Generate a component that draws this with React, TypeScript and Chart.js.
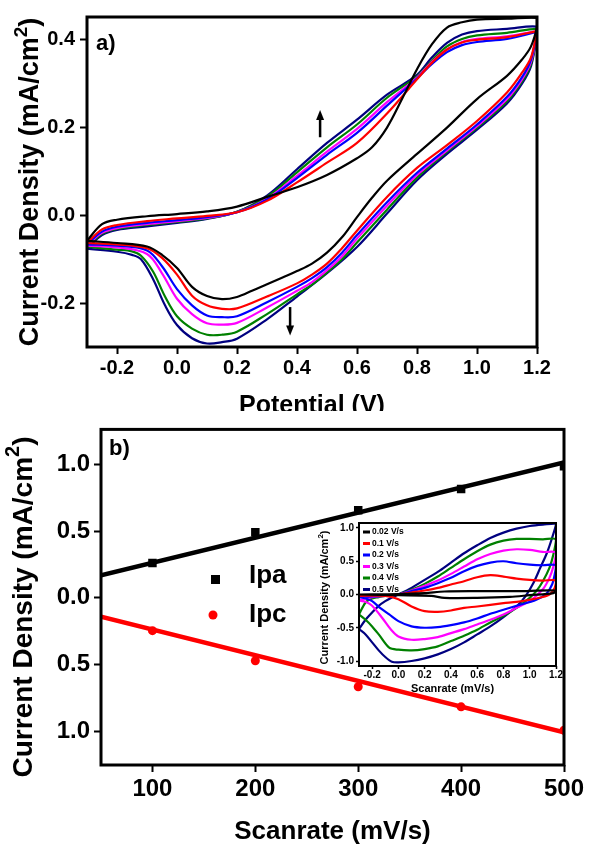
import React, { useEffect, useRef } from "react";
import { Chart, registerables } from "chart.js";
Chart.register(...registerables);

const FONT = "'Liberation Sans', Arial, Helvetica, sans-serif";
type P = [number, number];

// ---------------- panel a : CV curves ----------------
const cvColors = ["#000000", "#ff0000", "#0000ff", "#ff00ff", "#008000", "#000080"];
const cvXTicks = [-0.2, 0, 0.2, 0.4, 0.6, 0.8, 1.0, 1.2];
const cvYTicks = [-0.2, 0, 0.2, 0.4];

const cvBlack: P[] = [
  [-0.3, -0.058], [-0.25, -0.02], [-0.2, -0.01], [-0.1, -0.002], [0, 0.003], [0.1, 0.009], [0.2, 0.02], [0.3, 0.042],
  [0.4, 0.064], [0.5, 0.092], [0.6, 0.13], [0.65, 0.155], [0.7, 0.2], [0.75, 0.265], [0.8, 0.333], [0.85, 0.39],
  [0.9, 0.428], [0.95, 0.44], [1.0, 0.446], [1.1, 0.448], [1.2, 0.45],
  [1.2, 0.43], [1.18, 0.385], [1.15, 0.355], [1.1, 0.318], [1.0, 0.265], [0.9, 0.2], [0.8, 0.14], [0.7, 0.079],
  [0.65, 0.04], [0.6, -0.004], [0.55, -0.05], [0.5, -0.085], [0.45, -0.11], [0.4, -0.127], [0.35, -0.142],
  [0.3, -0.157], [0.25, -0.172], [0.2, -0.186], [0.15, -0.191], [0.1, -0.184], [0.05, -0.163], [0, -0.12],
  [-0.05, -0.09], [-0.1, -0.071], [-0.2, -0.063], [-0.3, -0.058],
];
const cvRed: P[] = [
  [-0.3, -0.063], [-0.25, -0.032], [-0.2, -0.022], [-0.1, -0.013], [0, -0.007], [0.1, -0.001], [0.2, 0.007], [0.3, 0.033],
  [0.4, 0.075], [0.5, 0.12], [0.6, 0.165], [0.7, 0.232], [0.8, 0.31], [0.85, 0.348], [0.9, 0.378], [0.95, 0.394],
  [1.0, 0.4], [1.1, 0.406], [1.2, 0.42],
  [1.2, 0.42], [1.18, 0.36], [1.15, 0.325], [1.1, 0.28], [1.0, 0.215], [0.9, 0.16], [0.8, 0.108], [0.7, 0.042],
  [0.6, -0.035], [0.55, -0.075], [0.5, -0.11], [0.45, -0.135], [0.4, -0.155], [0.3, -0.185], [0.2, -0.212],
  [0.15, -0.213], [0.1, -0.205], [0.05, -0.183], [0, -0.135], [-0.05, -0.097], [-0.1, -0.075], [-0.2, -0.066], [-0.3, -0.063],
];
const cvBlue: P[] = [
  [-0.3, -0.066], [-0.25, -0.037], [-0.2, -0.026], [-0.1, -0.017], [0, -0.011], [0.1, -0.004], [0.2, 0.007], [0.3, 0.036],
  [0.4, 0.085], [0.5, 0.138], [0.6, 0.188], [0.7, 0.25], [0.8, 0.312], [0.85, 0.345], [0.9, 0.372], [0.95, 0.388],
  [1.0, 0.395], [1.1, 0.402], [1.2, 0.418],
  [1.2, 0.418], [1.18, 0.355], [1.15, 0.315], [1.1, 0.27], [1.0, 0.207], [0.9, 0.152], [0.8, 0.097], [0.7, 0.03],
  [0.6, -0.045], [0.55, -0.085], [0.5, -0.118], [0.45, -0.143], [0.4, -0.163], [0.3, -0.198], [0.2, -0.23],
  [0.15, -0.232], [0.1, -0.228], [0.05, -0.205], [0, -0.168], [-0.05, -0.116], [-0.1, -0.08], [-0.2, -0.069], [-0.3, -0.066],
];
const cvMagenta: P[] = [
  [-0.3, -0.069], [-0.25, -0.04], [-0.2, -0.029], [-0.1, -0.02], [0, -0.013], [0.1, -0.006], [0.2, 0.007], [0.3, 0.038],
  [0.4, 0.09], [0.5, 0.145], [0.6, 0.197], [0.7, 0.258], [0.8, 0.314], [0.85, 0.35], [0.9, 0.378], [0.95, 0.395],
  [1.0, 0.402], [1.1, 0.408], [1.2, 0.42],
  [1.2, 0.418], [1.18, 0.35], [1.15, 0.31], [1.1, 0.265], [1.0, 0.203], [0.9, 0.148], [0.8, 0.092], [0.7, 0.022],
  [0.6, -0.053], [0.55, -0.093], [0.5, -0.125], [0.45, -0.152], [0.4, -0.172], [0.3, -0.21], [0.2, -0.245],
  [0.15, -0.249], [0.1, -0.246], [0.05, -0.225], [0, -0.19], [-0.05, -0.132], [-0.1, -0.088], [-0.2, -0.073], [-0.3, -0.069],
];
const cvGreen: P[] = [
  [-0.3, -0.072], [-0.25, -0.042], [-0.2, -0.031], [-0.1, -0.022], [0, -0.015], [0.1, -0.007], [0.2, 0.008], [0.3, 0.042],
  [0.4, 0.098], [0.5, 0.155], [0.6, 0.207], [0.7, 0.268], [0.8, 0.317], [0.85, 0.353], [0.9, 0.385], [0.95, 0.402],
  [1.0, 0.41], [1.1, 0.416], [1.2, 0.425],
  [1.2, 0.416], [1.18, 0.345], [1.15, 0.305], [1.1, 0.26], [1.0, 0.2], [0.9, 0.145], [0.8, 0.086], [0.7, 0.013],
  [0.6, -0.062], [0.55, -0.1], [0.5, -0.13], [0.45, -0.158], [0.4, -0.18], [0.3, -0.225], [0.2, -0.265],
  [0.15, -0.272], [0.1, -0.272], [0.05, -0.258], [0, -0.23], [-0.04, -0.185], [-0.08, -0.128], [-0.12, -0.092],
  [-0.15, -0.082], [-0.2, -0.078], [-0.3, -0.072],
];
const cvNavy: P[] = [
  [-0.3, -0.076], [-0.25, -0.045], [-0.2, -0.033], [-0.1, -0.025], [0, -0.017], [0.1, -0.008], [0.2, 0.008], [0.3, 0.045],
  [0.4, 0.105], [0.5, 0.165], [0.6, 0.218], [0.7, 0.275], [0.8, 0.32], [0.85, 0.36], [0.9, 0.393], [0.95, 0.412],
  [1.0, 0.42], [1.1, 0.425], [1.2, 0.43],
  [1.2, 0.415], [1.18, 0.34], [1.15, 0.3], [1.1, 0.255], [1.0, 0.195], [0.9, 0.14], [0.8, 0.08], [0.7, 0.004],
  [0.6, -0.072], [0.5, -0.132], [0.4, -0.185], [0.3, -0.237], [0.2, -0.281], [0.15, -0.289], [0.1, -0.292],
  [0.05, -0.28], [0, -0.25], [-0.04, -0.205], [-0.08, -0.145], [-0.12, -0.1], [-0.15, -0.09], [-0.2, -0.083], [-0.3, -0.076],
];
const cvCurves = [cvBlack, cvRed, cvBlue, cvMagenta, cvGreen, cvNavy];
const cvArrows = [
  { x: 0.477, from: 0.178, to: 0.24 },
  { x: 0.377, from: -0.209, to: -0.274 },
];

// ---------------- panel b : peak currents ----------------
const scanRates = [100, 200, 300, 400, 500];
const ipaValues = [0.26, 0.49, 0.655, 0.815, 0.985];
const ipcValues = [-0.245, -0.47, -0.665, -0.815, -0.99];
const fitRates = [50, 500];
const ipaFit = [0.168, 1.012];
const ipcFit = [-0.141, -1.005];
const rateTicks = [100, 200, 300, 400, 500];
const densityTicks = [-1, -0.5, 0, 0.5, 1];

// ---------------- inset : CV at scan rates ----------------
const insetLabels = ["0.02 V/s", "0.1 V/s", "0.2 V/s", "0.3 V/s", "0.4 V/s", "0.5 V/s"];
const insetXTicks = [-0.2, 0, 0.2, 0.4, 0.6, 0.8, 1.0, 1.2];
const insetYTicks = [-1, -0.5, 0, 0.5, 1];
const in002: P[] = [
  [-0.3, 0.0], [0.0, 0.005], [0.2, 0.02], [0.35, 0.045], [0.6, 0.05], [0.9, 0.05], [1.2, 0.06],
  [1.18, 0.02], [1.0, -0.01], [0.85, -0.035], [0.6, -0.05], [0.35, -0.05], [0.25, -0.02], [0.0, -0.01], [-0.3, 0.0],
];
const in01: P[] = [
  [-0.3, -0.02], [-0.1, -0.01], [0, 0], [0.1, 0.03], [0.2, 0.06], [0.3, 0.1], [0.4, 0.15], [0.5, 0.2], [0.6, 0.26],
  [0.7, 0.29], [0.8, 0.27], [0.9, 0.24], [1.0, 0.22], [1.1, 0.21], [1.2, 0.21],
  [1.19, 0.1], [1.15, 0.0], [1.05, -0.06], [0.9, -0.11], [0.8, -0.13], [0.6, -0.18], [0.5, -0.2], [0.4, -0.24],
  [0.3, -0.26], [0.2, -0.25], [0.1, -0.18], [0, -0.07], [-0.1, -0.02], [-0.3, -0.02],
];
const in02: P[] = [
  [-0.3, -0.04], [-0.2, -0.03], [-0.1, -0.015], [0, 0], [0.1, 0.05], [0.2, 0.1], [0.3, 0.17], [0.4, 0.25], [0.5, 0.35],
  [0.6, 0.43], [0.7, 0.48], [0.8, 0.5], [0.9, 0.47], [1.0, 0.45], [1.1, 0.44], [1.2, 0.44],
  [1.19, 0.3], [1.17, 0.15], [1.13, 0.02], [1.05, -0.08], [0.9, -0.17], [0.8, -0.23], [0.7, -0.29], [0.6, -0.36],
  [0.5, -0.42], [0.4, -0.46], [0.3, -0.49], [0.2, -0.5], [0.1, -0.48], [0, -0.4], [-0.07, -0.3], [-0.14, -0.2],
  [-0.2, -0.1], [-0.25, -0.06], [-0.3, -0.04],
];
const in03: P[] = [
  [-0.3, -0.09], [-0.25, -0.06], [-0.2, -0.04], [-0.1, -0.02], [0, 0], [0.1, 0.06], [0.2, 0.13], [0.3, 0.21], [0.4, 0.31],
  [0.5, 0.42], [0.6, 0.53], [0.7, 0.61], [0.8, 0.66], [0.9, 0.68], [1.0, 0.67], [1.1, 0.64], [1.2, 0.63],
  [1.18, 0.42], [1.15, 0.25], [1.1, 0.08], [1.0, -0.1], [0.9, -0.2], [0.8, -0.3], [0.7, -0.38], [0.6, -0.45],
  [0.5, -0.52], [0.4, -0.58], [0.3, -0.64], [0.2, -0.67], [0.1, -0.68], [0, -0.63], [-0.06, -0.52], [-0.12, -0.36],
  [-0.2, -0.17], [-0.25, -0.11], [-0.3, -0.09],
];
const in04: P[] = [
  [-0.3, -0.3], [-0.25, -0.12], [-0.2, -0.06], [-0.15, -0.04], [-0.1, -0.02], [0, 0], [0.1, 0.07], [0.2, 0.16],
  [0.3, 0.27], [0.4, 0.4], [0.5, 0.53], [0.6, 0.65], [0.7, 0.75], [0.8, 0.81], [0.9, 0.835], [1.0, 0.835],
  [1.1, 0.83], [1.2, 0.83],
  [1.18, 0.6], [1.15, 0.4], [1.1, 0.2], [1.05, 0.05], [1.0, -0.05], [0.9, -0.2], [0.8, -0.32], [0.7, -0.42],
  [0.6, -0.53], [0.5, -0.62], [0.4, -0.7], [0.3, -0.78], [0.2, -0.82], [0.1, -0.84], [0, -0.83], [-0.07, -0.8],
  [-0.15, -0.6], [-0.2, -0.48], [-0.25, -0.38], [-0.3, -0.3],
];
const in05: P[] = [
  [-0.3, -0.52], [-0.25, -0.38], [-0.2, -0.27], [-0.15, -0.17], [-0.1, -0.1], [-0.05, -0.045], [0, 0], [0.1, 0.1],
  [0.2, 0.22], [0.3, 0.34], [0.4, 0.48], [0.5, 0.62], [0.6, 0.74], [0.7, 0.85], [0.8, 0.93], [0.9, 0.99],
  [1.0, 1.03], [1.1, 1.05], [1.2, 1.06],
  [1.17, 0.85], [1.13, 0.62], [1.08, 0.4], [1.03, 0.18], [0.97, -0.02], [0.9, -0.18], [0.8, -0.34], [0.7, -0.48],
  [0.6, -0.6], [0.5, -0.72], [0.4, -0.82], [0.3, -0.9], [0.2, -0.96], [0.1, -1.0], [0, -1.02], [-0.05, -1.01],
  [-0.1, -0.94], [-0.15, -0.84], [-0.2, -0.72], [-0.25, -0.6], [-0.3, -0.52],
];
const insetCurves = [in002, in01, in02, in03, in04, in05];

// ---------------- helpers ----------------
function axis(
  min: number, max: number, ticks: number[], fmt: (v: number) => string,
  size: number, tickLen: number, pad: number, tickWidth: number, fit: (s: any) => void
): any {
  return {
    type: "linear",
    min,
    max,
    afterBuildTicks: (s: any) => { s.ticks = ticks.map((v) => ({ value: v })); },
    afterFit: fit,
    ticks: {
      font: { family: FONT, size, weight: "bold" },
      color: "#000",
      padding: pad,
      autoSkip: false,
      maxRotation: 0,
      callback: (v: any) => fmt(Number(v)),
    },
    grid: {
      display: true, drawOnChartArea: false, drawTicks: true,
      tickLength: tickLen, tickWidth, tickColor: "#000", color: "#000",
    },
    border: { display: false },
  };
}

function rotatedTitle(ctx: CanvasRenderingContext2D, cx: number, cy: number, size: number, supRatio: number) {
  const main = "Current Density (mA/cm";
  const sup = "2";
  const tail = ")";
  ctx.save();
  ctx.translate(cx, cy);
  ctx.rotate(-Math.PI / 2);
  ctx.fillStyle = "#000";
  ctx.textBaseline = "middle";
  ctx.textAlign = "left";
  const big = `bold ${size}px ${FONT}`;
  const small = `bold ${Math.round(size * supRatio)}px ${FONT}`;
  ctx.font = big;
  const w1 = ctx.measureText(main).width;
  const w3 = ctx.measureText(tail).width;
  ctx.font = small;
  const w2 = ctx.measureText(sup).width;
  let x = -(w1 + w2 + w3) / 2;
  ctx.font = big;
  ctx.fillText(main, x, 0);
  x += w1;
  ctx.font = small;
  ctx.fillText(sup, x, -size * 0.36);
  x += w2;
  ctx.font = big;
  ctx.fillText(tail, x, 0);
  ctx.restore();
}

function frame(ctx: CanvasRenderingContext2D, a: any, lw: number) {
  ctx.save();
  ctx.strokeStyle = "#000";
  ctx.lineWidth = lw;
  ctx.strokeRect(a.left, a.top, a.right - a.left, a.bottom - a.top);
  ctx.restore();
}

const fmt1 = (v: number) => v.toFixed(1);
const fmtAbs = (v: number) => Math.abs(v).toFixed(1);
const fmtInt = (v: number) => String(Math.round(v));

// ---------------- charts ----------------
function makePanelA(canvas: HTMLCanvasElement) {
  const deco = {
    id: "decoA",
    afterDraw(chart: any) {
      const ctx = chart.ctx as CanvasRenderingContext2D;
      const a = chart.chartArea;
      const xs = chart.scales.x;
      const ys = chart.scales.y;
      // arrows
      ctx.save();
      ctx.strokeStyle = "#000";
      ctx.fillStyle = "#000";
      ctx.lineWidth = 2.5;
      cvArrows.forEach((ar) => {
        const px = xs.getPixelForValue(ar.x);
        const y0 = ys.getPixelForValue(ar.from);
        const y1 = ys.getPixelForValue(ar.to);
        const dir = y1 < y0 ? -1 : 1;
        ctx.beginPath();
        ctx.moveTo(px, y0);
        ctx.lineTo(px, y1 - dir * 8);
        ctx.stroke();
        ctx.beginPath();
        ctx.moveTo(px, y1);
        ctx.lineTo(px - 4, y1 - dir * 10);
        ctx.lineTo(px + 4, y1 - dir * 10);
        ctx.closePath();
        ctx.fill();
      });
      ctx.restore();
      frame(ctx, a, 3);
      ctx.save();
      ctx.fillStyle = "#000";
      ctx.font = `bold 22px ${FONT}`;
      ctx.textAlign = "left";
      ctx.textBaseline = "alphabetic";
      ctx.fillText("a)", a.left + 9, a.top + 33);
      ctx.font = `bold 25px ${FONT}`;
      ctx.textAlign = "center";
      ctx.fillText("Potential (V)", (a.left + a.right) / 2, a.bottom + 66);
      ctx.restore();
      rotatedTitle(ctx, 31, (a.top + a.bottom) / 2, 27, 0.7);
    },
  };
  return new Chart(canvas, {
    type: "scatter",
    data: {
      datasets: cvCurves.map((c, i) => ({
        data: c.map(([x, y]) => ({ x, y })),
        showLine: true,
        borderColor: cvColors[i],
        backgroundColor: cvColors[i],
        borderWidth: 2.2,
        pointRadius: 0,
        tension: 0.35,
        fill: false,
      })),
    },
    options: {
      animation: false,
      responsive: false,
      events: [],
      layout: { padding: { left: 0, top: 14, right: 52, bottom: 0 } },
      plugins: { legend: { display: false }, tooltip: { enabled: false } },
      scales: {
        x: axis(-0.3, 1.2, cvXTicks, fmt1, 20, 7, 2, 2, (s: any) => { s.height = 64; }),
        y: axis(-0.3, 0.452, cvYTicks, fmt1, 20, 7, 5, 2, (s: any) => { s.width = 87; }),
      },
    } as any,
    plugins: [deco],
  });
}

function makePanelB(canvas: HTMLCanvasElement) {
  const deco = {
    id: "decoB",
    afterDraw(chart: any) {
      const ctx = chart.ctx as CanvasRenderingContext2D;
      const a = chart.chartArea;
      frame(ctx, a, 3);
      ctx.save();
      ctx.fillStyle = "#000";
      ctx.font = `bold 22px ${FONT}`;
      ctx.textAlign = "left";
      ctx.textBaseline = "alphabetic";
      ctx.fillText("b)", a.left + 8, a.top + 26);
      ctx.font = `bold 26px ${FONT}`;
      ctx.textAlign = "center";
      ctx.textBaseline = "middle";
      ctx.fillText("Scanrate (mV/s)", (a.left + a.right) / 2, a.bottom + 67);
      // legend
      ctx.fillStyle = "#000";
      ctx.fillRect(211, 164, 9, 9);
      ctx.fillStyle = "#ff0000";
      ctx.beginPath();
      ctx.arc(213, 204, 4.5, 0, Math.PI * 2);
      ctx.fill();
      ctx.fillStyle = "#000";
      ctx.textAlign = "left";
      ctx.textBaseline = "alphabetic";
      ctx.font = `bold 26px ${FONT}`;
      ctx.fillText("Ipa", 249, 172);
      ctx.fillText("Ipc", 249, 211);
      ctx.restore();
      rotatedTitle(ctx, 24, 196, 28, 0.7);
    },
  };
  return new Chart(canvas, {
    type: "scatter",
    data: {
      datasets: [
        {
          data: fitRates.map((x, i) => ({ x, y: ipaFit[i] })),
          showLine: true, borderColor: "#000", borderWidth: 4.5, pointRadius: 0,
        },
        {
          data: fitRates.map((x, i) => ({ x, y: ipcFit[i] })),
          showLine: true, borderColor: "#ff0000", borderWidth: 4.5, pointRadius: 0,
        },
        {
          data: scanRates.map((x, i) => ({ x, y: ipaValues[i] })),
          showLine: false, pointStyle: "rect", pointRadius: 6, backgroundColor: "#000", borderWidth: 0,
        },
        {
          data: scanRates.map((x, i) => ({ x, y: ipcValues[i] })),
          showLine: false, pointStyle: "circle", pointRadius: 4.5, backgroundColor: "#ff0000", borderWidth: 0,
        },
      ],
    },
    options: {
      animation: false,
      responsive: false,
      events: [],
      layout: { padding: { left: 0, top: 16, right: 25, bottom: 0 } },
      plugins: { legend: { display: false }, tooltip: { enabled: false } },
      scales: {
        x: axis(50, 500, rateTicks, fmtInt, 24, 7, 3, 2, (s: any) => { s.height = 80; }),
        y: axis(-1.25, 1.26, densityTicks, fmtAbs, 24, 7, 4, 2, (s: any) => { s.width = 101; }),
      },
    } as any,
    plugins: [deco],
  });
}

function makeInset(canvas: HTMLCanvasElement) {
  const bg = {
    id: "insetBg",
    beforeDraw(chart: any) {
      const ctx = chart.ctx as CanvasRenderingContext2D;
      const a = chart.chartArea;
      ctx.save();
      ctx.fillStyle = "#fff";
      ctx.fillRect(a.left, a.top, a.right - a.left, a.bottom - a.top);
      ctx.restore();
    },
    afterDraw(chart: any) {
      const ctx = chart.ctx as CanvasRenderingContext2D;
      const a = chart.chartArea;
      frame(ctx, a, 2);
      ctx.save();
      insetLabels.forEach((lab, i) => {
        const y = a.top + 9 + i * 11.5;
        ctx.strokeStyle = cvColors[i];
        ctx.lineWidth = 3;
        ctx.beginPath();
        ctx.moveTo(a.left + 4, y);
        ctx.lineTo(a.left + 11, y);
        ctx.stroke();
        ctx.fillStyle = "#000";
        ctx.font = `bold 8.5px ${FONT}`;
        ctx.textAlign = "left";
        ctx.textBaseline = "middle";
        ctx.fillText(lab, a.left + 13, y);
      });
      ctx.font = `bold 11px ${FONT}`;
      ctx.textAlign = "center";
      ctx.textBaseline = "middle";
      ctx.fillStyle = "#000";
      ctx.fillText("Scanrate (mV/s)", (a.left + a.right) / 2 - 5, a.bottom + 23);
      ctx.restore();
      rotatedTitle(ctx, 10, (a.top + a.bottom) / 2 + 3, 11, 0.7);
    },
  };
  return new Chart(canvas, {
    type: "scatter",
    data: {
      datasets: insetCurves.map((c, i) => ({
        data: c.map(([x, y]) => ({ x, y })),
        showLine: true,
        borderColor: cvColors[i],
        borderWidth: 2.2,
        pointRadius: 0,
        tension: 0.3,
        fill: false,
      })),
    },
    options: {
      animation: false,
      responsive: false,
      events: [],
      layout: { padding: { left: 0, top: 6, right: 9, bottom: 0 } },
      plugins: { legend: { display: false }, tooltip: { enabled: false } },
      scales: {
        x: axis(-0.3, 1.2, insetXTicks, fmt1, 10, 3, 0, 1.5, (s: any) => { s.height = 34; }),
        y: axis(-1.075, 1.075, insetYTicks, fmt1, 10, 3, 2, 1.5, (s: any) => { s.width = 44; }),
      },
    } as any,
    plugins: [bg],
  });
}

export default function App() {
  const refA = useRef<HTMLCanvasElement>(null);
  const refB = useRef<HTMLCanvasElement>(null);
  const refI = useRef<HTMLCanvasElement>(null);
  useEffect(() => {
    const ca = makePanelA(refA.current!);
    const cb = makePanelB(refB.current!);
    const ci = makeInset(refI.current!);
    return () => {
      ca.destroy();
      cb.destroy();
      ci.destroy();
    };
  }, []);
  const abs = (l: number, t: number): React.CSSProperties => ({ position: "absolute", left: l, top: t, display: "block" });
  return (
    <div style={{ position: "absolute", left: 0, top: 0, width: 589, height: 845, background: "#fff", overflow: "hidden" }}>
      <canvas ref={refA} width={589} height={411} style={abs(0, 0)} />
      <canvas ref={refB} width={589} height={434} style={abs(0, 411)} />
      <canvas ref={refI} width={250} height={185} style={abs(315, 515)} />
    </div>
  );
}
